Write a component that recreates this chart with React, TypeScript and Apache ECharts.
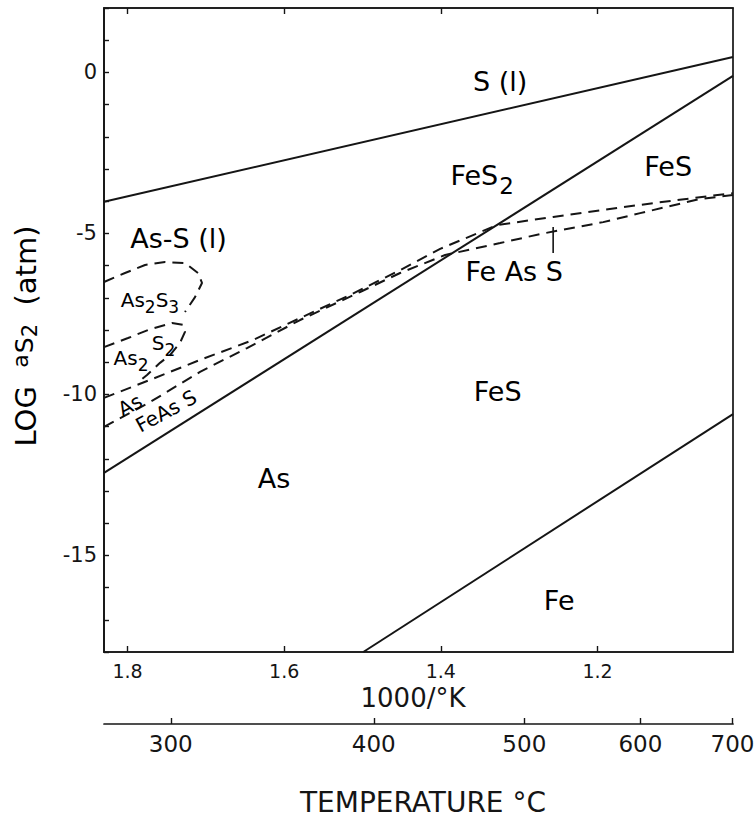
import React, { useEffect, useRef } from "react";
import * as echarts from "echarts";

const INK = "#151515";
const FONT = "'DejaVu Sans', 'Liberation Sans', sans-serif";

// axis ranges and ticks
const xRange = [1.027, 1.83]; // 1000/K
const yRange = [-18, 2]; // log aS2
const invKTicks = [1.2, 1.4, 1.6, 1.8];
const tempTicksC = [300, 400, 500, 600, 700];
const yLabelStep = 5;

// phase boundaries: [1000/K, log aS2]
const sulfurCondensation = [[1.83, -4.02], [1.027, 0.48]];
const pyritePyrrhotite = [[1.83, -12.44], [1.027, -0.11]];
const pyrrhotiteIron = [[1.499, -18], [1.027, -10.61]];
const feAsSUpper = [
  [1.83, -10.11], [1.7713, -9.55], [1.7074, -8.93], [1.6397, -8.31], [1.5797, -7.63],
  [1.5158, -6.91], [1.452, -6.14], [1.4009, -5.48], [1.3281, -4.74], [1.2566, -4.49],
  [1.1927, -4.27], [1.1289, -4.06], [1.027, -3.75],
];
const feAsSLower = [
  [1.83, -11.01], [1.7713, -10.24], [1.7074, -9.3], [1.6474, -8.56], [1.5797, -7.69],
  [1.5031, -6.82], [1.452, -6.23], [1.3945, -5.67], [1.3243, -5.3], [1.2732, -5.02],
  [1.1927, -4.65], [1.1455, -4.37], [1.0688, -3.93], [1.027, -3.81],
];
const orpimentLoop = [
  [1.83, -6.51], [1.8032, -6.23], [1.7776, -5.98], [1.7521, -5.89], [1.7266, -5.92],
  [1.71, -6.23], [1.7049, -6.54], [1.7138, -6.98], [1.7266, -7.44],
];
const realgarLoop = [
  [1.83, -8.53], [1.7993, -8.25], [1.7738, -8.0], [1.7432, -7.78], [1.7291, -7.84],
  [1.7266, -8.06], [1.733, -8.4], [1.7457, -8.78], [1.7585, -9.02], [1.7751, -9.4],
  [1.7879, -9.65],
];
const feAsSPointer = [[1.2566, -4.8], [1.2566, -5.61]];

// field labels: rich text + anchor in data units
const fieldLabels = [
  { text: "{m|S (l)}", at: [1.3243, -0.27] },
  { text: "{m|FeS}{sub|2}", at: [1.3473, -3.19] },
  { text: "{m|FeS}", at: [1.1097, -2.91] },
  { text: "{m|Fe As S}", at: [1.3064, -6.18] },
  { text: "{m|FeS}", at: [1.3274, -9.91] },
  { text: "{m|Fe}", at: [1.2489, -16.39] },
  { text: "{m|As}", at: [1.6129, -12.61] },
  { text: "{m|As-S (l)}", at: [1.7349, -5.16] },
  { text: "{s|As}{ssub|2}{s|S}{ssub|3}", at: [1.7713, -7.07] },
  { text: "{s|As}{ssub|2}", at: [1.7955, -8.87] },
  { text: "{s|S}{ssub|2}", at: [1.754, -8.4] },
  { text: "{s|As}", at: [1.7968, -10.33], tilt: 0.5 },
  { text: "{s|FeAs S}", at: [1.7508, -10.52], tilt: 0.5 },
];

const tempToInvK = (c: number) => 1000 / (c + 273.15);

const labelRich = {
  m: { fontSize: 27, fontFamily: FONT, color: INK },
  sub: { fontSize: 23, fontFamily: FONT, color: INK, padding: [21, 0, 0, 1] },
  s: { fontSize: 20, fontFamily: FONT, color: INK },
  ssub: { fontSize: 17, fontFamily: FONT, color: INK, padding: [14, 0, 0, 0] },
};

export default function App() {
  const ref = useRef<HTMLDivElement>(null);
  useEffect(() => {
    if (!ref.current) return;
    const chart = echarts.init(ref.current, undefined, { renderer: "svg" });
    const axisLine = { onZero: false, lineStyle: { color: INK, width: 1.7 } };
    const tickStyle = { color: INK, width: 1.4 };
    const tempVals = tempTicksC.map(tempToInvK);
    const solid = (data: number[][]) => ({
      type: "line", data, symbol: "none", showSymbol: false, silent: true,
      lineStyle: { color: INK, width: 2 }, z: 3,
    });
    const dashed = (data: number[][]) => ({
      type: "line", data, symbol: "none", showSymbol: false, silent: true,
      lineStyle: { color: INK, width: 2, type: [11, 7] }, z: 3,
    });
    const option: any = {
      animation: false,
      backgroundColor: "#fff",
      grid: {
        left: 104, right: 21, top: 8, bottom: 167, show: true,
        borderColor: INK, borderWidth: 1.7, containLabel: false, outerBoundsMode: "none",
      },
      xAxis: [
        {
          type: "value", inverse: true, min: xRange[0], max: xRange[1], position: "bottom",
          axisLine, splitLine: { show: false },
          axisTick: { inside: true, length: 6, customValues: invKTicks, lineStyle: tickStyle },
          axisLabel: {
            customValues: invKTicks, formatter: (v: number) => v.toFixed(1),
            fontSize: 19, fontFamily: FONT, color: INK, margin: 9,
          },
        },
        {
          type: "value", inverse: true, min: xRange[0], max: xRange[1], position: "top",
          axisLine, splitLine: { show: false },
          axisTick: { inside: true, length: 6, customValues: invKTicks, lineStyle: tickStyle },
          axisLabel: { show: false },
        },
        {
          type: "value", inverse: true, min: xRange[0], max: xRange[1], position: "bottom", offset: 72,
          axisLine, splitLine: { show: false },
          axisTick: { inside: true, length: 6, customValues: tempVals, lineStyle: tickStyle },
          axisLabel: {
            customValues: tempVals, formatter: (v: number) => String(Math.round(1000 / v - 273.15)),
            fontSize: 23, fontFamily: FONT, color: INK, margin: 8,
          },
        },
      ],
      yAxis: [
        {
          type: "value", min: yRange[0], max: yRange[1], interval: 1,
          axisLine, splitLine: { show: false },
          axisTick: { inside: true, length: 5, lineStyle: tickStyle },
          axisLabel: {
            formatter: (v: number) => (Math.round(v) % yLabelStep === 0 ? String(Math.round(v)) : ""),
            fontSize: 21, fontFamily: FONT, color: INK, margin: 7,
          },
        },
      ],
      series: [
        solid(sulfurCondensation),
        solid(pyritePyrrhotite),
        solid(pyrrhotiteIron),
        dashed(feAsSUpper),
        dashed(feAsSLower),
        dashed(orpimentLoop),
        dashed(realgarLoop),
        { ...solid(feAsSPointer), lineStyle: { color: INK, width: 1.6 } },
      ],
    };
    chart.setOption(option);

    const graphics: any[] = fieldLabels.map((l) => {
      const p = chart.convertToPixel({ xAxisIndex: 0, yAxisIndex: 0 }, l.at) as number[];
      return {
        type: "text", x: p[0], y: p[1], rotation: l.tilt || 0, z: 10,
        style: { text: l.text, rich: labelRich, align: "center", verticalAlign: "middle" },
      };
    });
    graphics.push({
      type: "text", x: 413, y: 698, z: 10,
      style: { text: "1000/°K", fontSize: 26, fontFamily: FONT, fill: INK, align: "center", verticalAlign: "middle" },
    });
    graphics.push({
      type: "text", x: 423, y: 802, z: 10,
      style: { text: "TEMPERATURE °C", fontSize: 28, fontFamily: FONT, fill: INK, align: "center", verticalAlign: "middle" },
    });
    graphics.push({
      type: "text", x: 26, y: 336, rotation: Math.PI / 2, z: 10,
      style: {
        text: "{m|LOG  }{a|a}{s|S}{b|2}{m|  (atm)}",
        align: "center", verticalAlign: "middle",
        rich: {
          m: { fontSize: 29, fontFamily: FONT, color: INK },
          a: { fontSize: 22, fontFamily: FONT, color: INK, padding: [0, 1, 12, 0] },
          s: { fontSize: 25, fontFamily: FONT, color: INK, padding: [0, 0, 4, 0] },
          b: { fontSize: 21, fontFamily: FONT, color: INK, padding: [7, 0, 0, 0] },
        },
      },
    });
    chart.setOption({ graphic: graphics });
    return () => chart.dispose();
  }, []);
  return (
    <div
      ref={ref}
      style={{ position: "absolute", left: 0, top: 0, width: 754, height: 819, background: "#fff" }}
    />
  );
}
